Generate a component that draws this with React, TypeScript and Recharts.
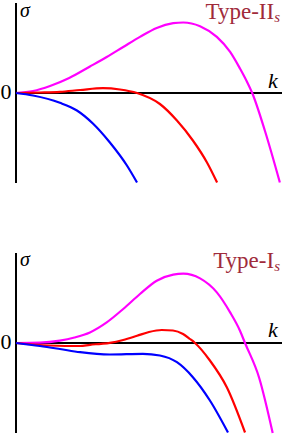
import { LineChart, Line, XAxis, YAxis, ReferenceLine } from "recharts";

type Pt = { k: number; s: number };

// top panel (Type-II_s)
const topMagenta: Pt[] = [
  { k: 0, s: 0 }, { k: 0.64, s: 0.2 }, { k: 1.28, s: 0.7 }, { k: 2.0, s: 1.5 },
  { k: 2.78, s: 2.65 }, { k: 3.41, s: 3.6 }, { k: 4.03, s: 4.6 }, { k: 4.66, s: 5.61 },
  { k: 5.29, s: 6.51 }, { k: 5.91, s: 6.98 }, { k: 6.29, s: 7.05 }, { k: 6.92, s: 6.68 },
  { k: 7.55, s: 5.61 }, { k: 8.05, s: 4.11 }, { k: 8.42, s: 2.45 }, { k: 8.67, s: 1.2 },
  { k: 8.88, s: 0 }, { k: 9.36, s: -3.8 }, { k: 9.92, s: -8.95 },
];
const topRed: Pt[] = [
  { k: 0, s: 0 }, { k: 0.9, s: 0.05 }, { k: 1.65, s: 0.12 }, { k: 2.41, s: 0.3 },
  { k: 3.27, s: 0.48 }, { k: 3.91, s: 0.35 }, { k: 4.55, s: 0 }, { k: 5.41, s: -1.1 },
  { k: 6.05, s: -2.75 }, { k: 6.65, s: -4.75 }, { k: 7.18, s: -6.95 }, { k: 7.56, s: -8.95 },
];
const topBlue: Pt[] = [
  { k: 0, s: 0 }, { k: 0.64, s: -0.25 }, { k: 1.65, s: -0.98 }, { k: 2.29, s: -1.75 },
  { k: 2.89, s: -3.05 }, { k: 3.53, s: -4.95 }, { k: 4.17, s: -7.25 }, { k: 4.55, s: -8.95 },
];

// bottom panel (Type-I_s)
const botMagenta: Pt[] = [
  { k: 0, s: 0 }, { k: 0.9, s: 0.03 }, { k: 1.65, s: 0.23 }, { k: 2.2, s: 0.55 },
  { k: 2.78, s: 1.06 }, { k: 3.41, s: 2.06 }, { k: 4.03, s: 3.4 }, { k: 4.66, s: 4.9 },
  { k: 5.29, s: 6.23 }, { k: 5.91, s: 6.83 }, { k: 6.29, s: 6.93 }, { k: 6.92, s: 6.46 },
  { k: 7.55, s: 5.06 }, { k: 8.05, s: 3.06 }, { k: 8.42, s: 1.23 }, { k: 8.61, s: 0 },
  { k: 9.14, s: -3.47 }, { k: 9.65, s: -9 },
];
const botRed: Pt[] = [
  { k: 0, s: 0 }, { k: 1.28, s: -0.25 }, { k: 2.41, s: -0.3 }, { k: 2.78, s: -0.18 },
  { k: 3.2, s: -0.08 }, { k: 3.53, s: 0.02 }, { k: 4.03, s: 0.3 }, { k: 4.55, s: 0.72 },
  { k: 5.0, s: 1.1 }, { k: 5.48, s: 1.3 }, { k: 5.9, s: 1.25 }, { k: 6.28, s: 0.9 },
  { k: 6.54, s: 0.4 }, { k: 6.73, s: 0 }, { k: 7.29, s: -1.75 }, { k: 7.93, s: -4.45 },
  { k: 8.61, s: -8.95 },
];
const botBlue: Pt[] = [
  { k: 0, s: 0 }, { k: 0.9, s: -0.3 }, { k: 1.65, s: -0.6 }, { k: 2.41, s: -0.92 },
  { k: 3.53, s: -1.15 }, { k: 4.77, s: -1.08 }, { k: 5.41, s: -1.25 }, { k: 6.05, s: -1.92 },
  { k: 6.65, s: -3.42 }, { k: 7.29, s: -5.75 }, { k: 7.97, s: -8.95 },
];

const serif = '"Liberation Serif", "DejaVu Serif", serif';
const maroon = "#a02b3b";

function Panel({ series, margin, height }: { series: Pt[][]; margin: any; height: number }) {
  const colors = ["#ff00ff", "#ff0000", "#0000ff"];
  return (
    <LineChart width={284} height={height} margin={margin}>
      <XAxis type="number" dataKey="k" domain={[0, 10]} hide />
      <YAxis type="number" domain={[-9, 9]} hide />
      <ReferenceLine x={0} stroke="#000" strokeWidth={2} />
      <ReferenceLine y={0} stroke="#000" strokeWidth={1.8} />
      {series.map((d, i) => (
        <Line
          key={i}
          data={d}
          dataKey="s"
          type="monotone"
          stroke={colors[i]}
          strokeWidth={2.2}
          dot={false}
          isAnimationActive={false}
        />
      ))}
    </LineChart>
  );
}

export default function App() {
  const t = { fontFamily: serif };
  return (
    <div style={{ position: "absolute", left: 0, top: 0, width: 284, height: 435, background: "#fff" }}>
      <div style={{ position: "absolute", left: 0, top: 0 }}>
        <Panel
          series={[topMagenta, topRed, topBlue]}
          height={200}
          margin={{ top: 3, right: 2, left: 16, bottom: 17 }}
        />
      </div>
      <div style={{ position: "absolute", left: 0, top: 230 }}>
        <Panel
          series={[botMagenta, botRed, botBlue]}
          height={205}
          margin={{ top: 23, right: 2, left: 16, bottom: 2 }}
        />
      </div>
      <svg
        width={284}
        height={435}
        style={{ position: "absolute", left: 0, top: 0, pointerEvents: "none" }}
      >
        <text style={t} x={6} y={99} fontSize={22} textAnchor="middle">0</text>
        <text style={t} x={20} y={17} fontSize={20} fontStyle="italic">σ</text>
        <text style={t} x={268} y={87.5} fontSize={22} fontStyle="italic">k</text>
        <text style={t} x={280} y={18.5} fontSize={23} textAnchor="end" fill={maroon}>
          Type-II<tspan fontStyle="italic" fontSize={15} dy={3}>s</tspan>
        </text>

        <text style={t} x={6} y={349} fontSize={22} textAnchor="middle">0</text>
        <text style={t} x={20} y={266} fontSize={20} fontStyle="italic">σ</text>
        <text style={t} x={268} y={337.3} fontSize={22} fontStyle="italic">k</text>
        <text style={t} x={280} y={267.5} fontSize={23} textAnchor="end" fill={maroon}>
          Type-I<tspan fontStyle="italic" fontSize={15} dy={3}>s</tspan>
        </text>
      </svg>
    </div>
  );
}
